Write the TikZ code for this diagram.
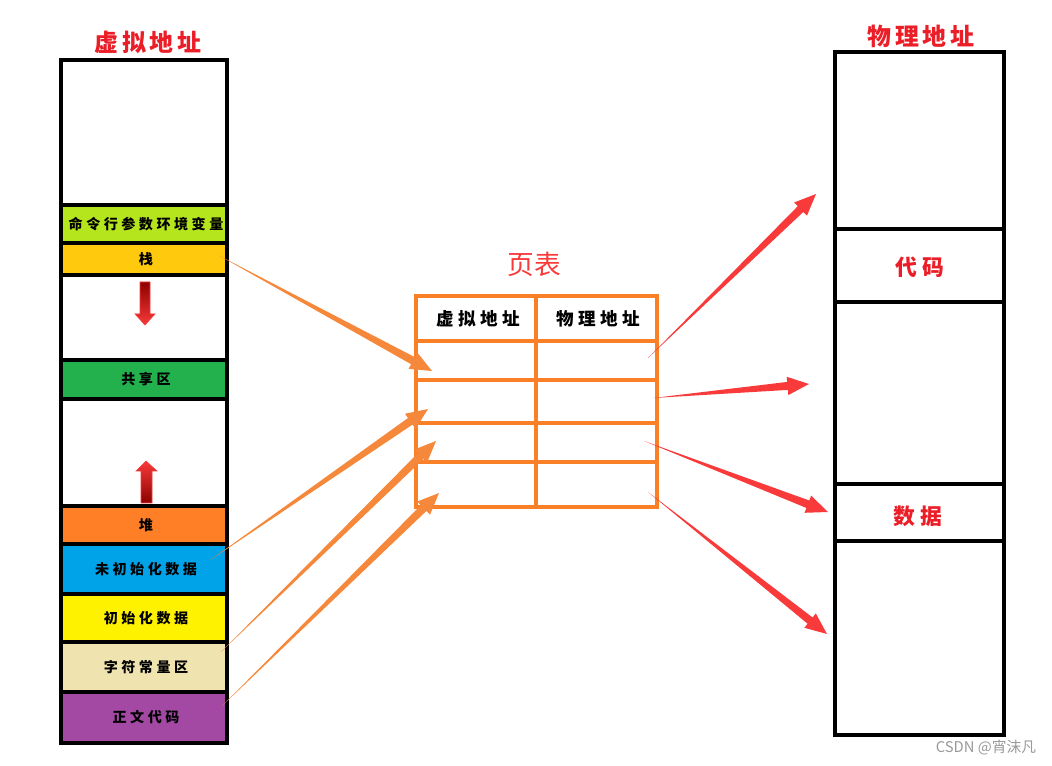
\documentclass[tikz,border=0pt]{standalone}
\usepackage{fontspec}
\newfontfamily\cjk{Noto Sans CJK SC}
\usetikzlibrary{calc}

\definecolor{cmdgreen}{RGB}{181,230,29}
\definecolor{stackyel}{RGB}{255,201,14}
\definecolor{sharegreen}{RGB}{34,177,76}
\definecolor{heaporange}{RGB}{255,127,39}
\definecolor{bssblue}{RGB}{0,162,232}
\definecolor{datayel}{RGB}{255,242,0}
\definecolor{robeige}{RGB}{239,228,176}
\definecolor{textpurple}{RGB}{163,73,164}
\definecolor{tblorange}{RGB}{250,128,40}
\definecolor{arrorange}{RGB}{245,136,58}
\definecolor{titlered}{RGB}{235,30,40}
\definecolor{arrred}{RGB}{248,58,58}

% tapered arrow: thin tail at #1, head at #2, colour #3
\newcommand{\taper}[3]{%
  \path ($(#2)!5.4mm!(#1)$) coordinate (tb);
  \fill[#3] (#1) -- ($(tb)!1mm!90:(#2)$) -- ($(tb)!2.3mm!90:(#2)$) -- (#2)
    -- ($(tb)!2.3mm!-90:(#2)$) -- ($(tb)!1mm!-90:(#2)$) -- cycle;
}

\begin{document}
\begin{tikzpicture}[x=0.25mm,y=-0.25mm]
  \tikzset{
    seg/.style={draw=black,line width=2.3pt},
    tbl/.style={draw=tblorange,line width=2.8pt},
    seglabel/.style={font=\cjk\bfseries\fontsize{10}{12}\selectfont\addfontfeature{LetterSpace=25}},
    headlabel/.style={font=\cjk\bfseries\fontsize{12.5}{14}\selectfont\addfontfeature{LetterSpace=25}},
    redtitle/.style={font=\cjk\bfseries\fontsize{17}{20}\selectfont\addfontfeature{LetterSpace=15},text=titlered},
    redlabel/.style={font=\cjk\bfseries\fontsize{15.5}{18}\selectfont\addfontfeature{LetterSpace=25},text=titlered}
  }
  \useasboundingbox (0,0) rectangle (1052,766);

  % virtual address space
  \node[redtitle] (vtitle) at (148,42) {虚拟地址};
  \draw[seg] (61,60) rectangle (227,205);
  \foreach \top/\bot/\col/\name/\txt in {
      205/243/cmdgreen/cmd/命令行参数环境变量,
      243/275/stackyel/stack/栈,
      275/360/white/gapa/,
      360/399/sharegreen/shared/共享区,
      399/506/white/gapb/,
      506/544/heaporange/heap/堆,
      544/594/bssblue/bss/未初始化数据,
      594/642/datayel/data/初始化数据,
      642/692/robeige/rodata/字符常量区,
      692/743/textpurple/code/正文代码} {
    \draw[seg,fill=\col] (61,\top) rectangle (227,\bot);
    \node[seglabel] (\name) at (146,{(\top+\bot)/2}) {\txt};
  }

  % growth arrows
  \shade[top color=red!55!black,bottom color=arrred,draw=arrred,line width=0.4pt]
    (140,282) -- (150,282) -- (150,314) -- (155,314) -- (145,325) -- (135,314) -- (140,314) -- cycle;
  \shade[top color=arrred,bottom color=red!55!black,draw=arrred,line width=0.4pt]
    (141,503) -- (152,503) -- (152,471) -- (157,471) -- (146,461) -- (136,471) -- (141,471) -- cycle;

  % page table
  \node[font=\cjk\fontsize{19}{22}\selectfont,text=arrred] (ptitle) at (534,264) {页表};
  \draw[tbl] (416,296) rectangle (657,507);
  \draw[tbl] (536,296) -- (536,507);
  \foreach \y in {341,380,423,462}
    \draw[tbl] (416,\y) -- (657,\y);
  \node[headlabel] (hvirt) at (478,319) {虚拟地址};
  \node[headlabel] (hphys) at (598,319) {物理地址};

  % physical memory
  \node[redtitle] (ptitle2) at (921,36) {物理地址};
  \draw[seg] (835,52) rectangle (1004,735);
  \foreach \y in {229,302,484,541}
    \draw[seg] (835,\y) -- (1004,\y);
  \node[redlabel] (pcode) at (920,267) {代码};
  \node[redlabel] (pdata) at (918,516) {数据};

  % arrow ends
  \coordinate (sA) at (218,255);  \coordinate (tA) at (432,371);
  \coordinate (sB) at (209,561);  \coordinate (tB) at (428,409);
  \coordinate (sC) at (221,652);  \coordinate (tC) at (436,441);
  \coordinate (sD) at (222,706);  \coordinate (tD) at (439,493);
  \coordinate (rA) at (648,358);  \coordinate (eA) at (816,194);
  \coordinate (rB) at (653,398);  \coordinate (eB) at (809,384);
  \coordinate (rC) at (644,441);  \coordinate (eC) at (828,512);
  \coordinate (rD) at (648,492);  \coordinate (eD) at (827,634);

  \taper{sA}{tA}{arrorange}
  \taper{sB}{tB}{arrorange}
  \taper{sC}{tC}{arrorange}
  \taper{sD}{tD}{arrorange}
  \taper{rA}{eA}{arrred}
  \taper{rB}{eB}{arrred}
  \taper{rC}{eC}{arrred}
  \taper{rD}{eD}{arrred}

  \node[font=\cjk\fontsize{10.5}{12}\selectfont,text=black!40] (mark) at (986,748) {CSDN @宵沫凡};
\end{tikzpicture}
\end{document}
